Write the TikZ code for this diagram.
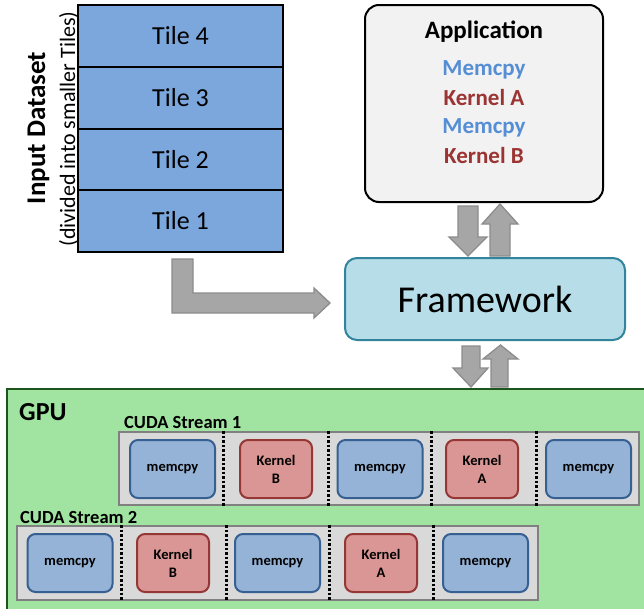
\documentclass[tikz,border=0pt]{standalone}
\usepackage{fontspec}
\setmainfont{Carlito}
\usetikzlibrary{calc}

\definecolor{tileblue}{RGB}{124,167,220}
\definecolor{appfill}{RGB}{242,242,242}
\definecolor{fwfill}{RGB}{183,221,232}
\definecolor{fwedge}{RGB}{49,132,155}
\definecolor{arrowfill}{RGB}{166,166,166}
\definecolor{arrowedge}{RGB}{140,140,140}
\definecolor{gpufill}{RGB}{161,227,161}
\definecolor{gpuedge}{RGB}{30,85,30}
\definecolor{streamfill}{RGB}{217,217,217}
\definecolor{streamedge}{RGB}{128,128,128}
\definecolor{memfill}{RGB}{149,179,215}
\definecolor{memedge}{RGB}{54,96,146}
\definecolor{kernfill}{RGB}{217,150,148}
\definecolor{kernedge}{RGB}{149,55,53}
\definecolor{memtext}{RGB}{85,142,213}
\definecolor{kerntext}{RGB}{155,52,50}

\tikzset{
   tile/.style={draw=black, line width=2pt, fill=tileblue, minimum width=205pt, minimum height=62pt, font=\fontsize{26}{30}\selectfont},
   appbox/.style={draw=black, line width=2pt, fill=appfill, rounded corners=14pt, minimum width=238pt, minimum height=197pt},
   fwbox/.style={draw=fwedge, line width=2pt, fill=fwfill, rounded corners=12pt, minimum width=280pt, minimum height=82pt, font=\fontsize{38}{42}\selectfont},
   apptext/.style={anchor=base, inner sep=0pt, font=\bfseries\fontsize{23}{26}\selectfont},
   blockarrow/.style={draw=arrowedge, line width=1.3pt, fill=arrowfill},
   streambox/.style={draw=streamedge, line width=2pt, fill=streamfill, minimum height=73pt},
   memcpybox/.style={draw=memedge, line width=2pt, fill=memfill, rounded corners=8pt, minimum width=85pt, minimum height=58pt, font=\bfseries\fontsize{14.5}{18}\selectfont},
   kernelbox/.style={draw=kernedge, line width=2pt, fill=kernfill, rounded corners=8pt, minimum width=72pt, minimum height=58pt, align=center, font=\bfseries\fontsize{14.5}{18}\selectfont},
   divider/.style={line width=3pt, dash pattern=on 2.5pt off 2pt, black},
   streamlabel/.style={anchor=base west, inner sep=0pt, font=\bfseries\fontsize{18.5}{20}\selectfont}
}

\begin{document}
\begin{tikzpicture}[x=1pt, y=-1pt]

   \useasboundingbox (0,0) rectangle (644,608);

   % input tiles
   \node (Tile4) at (180.5,36) [tile] {Tile 4};
   \node (Tile3) at (180.5,98) [tile] {Tile 3};
   \node (Tile2) at (180.5,160) [tile] {Tile 2};
   \node (Tile1) at (180.5,221) [tile] {Tile 1};

   \node (Dataset) at (45,128) [rotate=90, anchor=base, inner sep=0pt, font=\bfseries\fontsize{27}{30}\selectfont] {Input Dataset};
   \node (DatasetNote) at (75,129) [rotate=90, anchor=base, inner sep=0pt, font=\fontsize{22}{25}\selectfont] {(divided into smaller Tiles)};

   % application
   \node (App) at (484,103.5) [appbox] {};
   \node (AppTitle) at (484,38) [apptext, font=\bfseries\fontsize{25}{28}\selectfont] {Application};
   \node (AppMemcpyA) at (484,75) [apptext, text=memtext] {Memcpy};
   \node (AppKernelA) at (484,105) [apptext, text=kerntext] {Kernel A};
   \node (AppMemcpyB) at (484,133) [apptext, text=memtext] {Memcpy};
   \node (AppKernelB) at (484,163) [apptext, text=kerntext] {Kernel B};

   % framework
   \node (Fw) at (485,299) [fwbox] {Framework};

   % gpu
   \fill [gpufill] (7,389) rectangle (660,620);
   \draw [gpuedge, line width=2pt] (7,620) -- (7,389) -- (660,389);
   \node (GPU) at (19,420) [anchor=base west, inner sep=0pt, font=\bfseries\fontsize{26}{30}\selectfont] {GPU};

   \node (StreamA) at (379,468.5) [streambox, minimum width=520pt] {};
   \node (StreamALabel) at (124,428) [streamlabel] {CUDA Stream 1};
   \node (StreamB) at (277.5,563) [streambox, minimum width=521pt, minimum height=74pt] {};
   \node (StreamBLabel) at (20,523) [streamlabel] {CUDA Stream 2};

   \draw [divider] (223,0 |- StreamA.north) -- (223,0 |- StreamA.south);
   \draw [divider] (328,0 |- StreamA.north) -- (328,0 |- StreamA.south);
   \draw [divider] (431,0 |- StreamA.north) -- (431,0 |- StreamA.south);
   \draw [divider] (536,0 |- StreamA.north) -- (536,0 |- StreamA.south);

   \draw [divider] (121,0 |- StreamB.north) -- (121,0 |- StreamB.south);
   \draw [divider] (226,0 |- StreamB.north) -- (226,0 |- StreamB.south);
   \draw [divider] (329,0 |- StreamB.north) -- (329,0 |- StreamB.south);
   \draw [divider] (433,0 |- StreamB.north) -- (433,0 |- StreamB.south);

   \node (A1) at (172.5,469) [memcpybox] {memcpy};
   \node (A2) at (276,469) [kernelbox] {Kernel\\B};
   \node (A3) at (380,469) [memcpybox] {memcpy};
   \node (A4) at (482,469) [kernelbox] {Kernel\\A};
   \node (A5) at (588.5,469) [memcpybox] {memcpy};

   \node (B1) at (70,563) [memcpybox] {memcpy};
   \node (B2) at (173,563) [kernelbox] {Kernel\\B};
   \node (B3) at (277.5,563) [memcpybox] {memcpy};
   \node (B4) at (381,563) [kernelbox] {Kernel\\A};
   \node (B5) at (485.5,563) [memcpybox] {memcpy};

   % block arrows
   \draw [blockarrow, shift={(Tile1.south)}] (-8.5,6) -- (12.5,6) -- (12.5,40) -- (133.5,40) -- (133.5,35) -- (149.5,50) -- (133.5,65) -- (133.5,60) -- (-8.5,60) -- cycle;

   \draw [blockarrow, shift={(App.south)}] (-26,3) -- (-6,3) -- (-6,34) -- (3,34) -- (-16,53) -- (-35,34) -- (-26,34) -- cycle;
   \draw [blockarrow, shift={(App.south)}] (6,53) -- (26,53) -- (26,21) -- (34,21) -- (16,1) -- (-2,21) -- (6,21) -- cycle;

   \draw [blockarrow, shift={(Fw.south)}] (-23,5) -- (-5,5) -- (-5,27) -- (3,27) -- (-14,46) -- (-32,27) -- (-23,27) -- cycle;
   \draw [blockarrow, shift={(Fw.south)}] (6,46) -- (23,46) -- (23,18) -- (33,18) -- (15.5,4) -- (-2,18) -- (6,18) -- cycle;

\end{tikzpicture}
\end{document}
